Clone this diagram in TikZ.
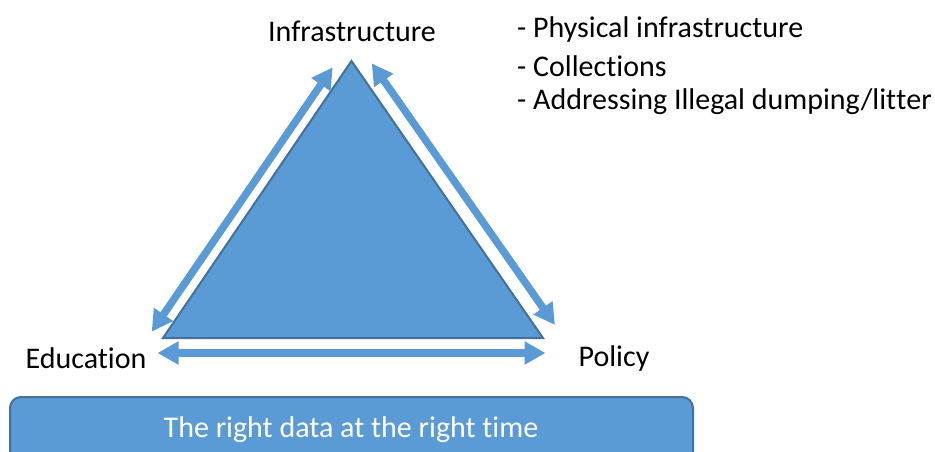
\documentclass[tikz,border=0pt]{standalone}
\usepackage{fontspec}
\setmainfont{Carlito}[Ligatures={NoCommon,NoContextual},RawFeature={-calt;-dlig}]
\usetikzlibrary{arrows.meta}
\definecolor{bfill}{HTML}{5B9BD5}
\definecolor{bline}{HTML}{41719C}
\newcommand{\nlg}{\kern0pt{}}
\tikzset{
  dblarrow/.style={draw=bfill, line width=7.5pt,
    {Triangle[length=21pt,width=22pt]}-{Triangle[length=21pt,width=22pt]}},
  lbl/.style={font=\fontsize{30}{32}\selectfont, inner sep=0pt},
  shape fill/.style={fill=bfill, draw=bline, line width=2pt}
}
\begin{document}
\begin{tikzpicture}[x=1pt,y=-1pt]
\useasboundingbox (0,0) rectangle (935,452);
\clip (0,0) rectangle (935,452);
% triangle
\coordinate (T) at (351.5,61);
\coordinate (BL) at (163,338);
\coordinate (BR) at (543,338);
\draw[shape fill, line join=miter] (T) -- (BL) -- (BR) -- cycle;
% arrows
\coordinate (a1) at (151.7,331.7);
\coordinate (a2) at (332.7,67.3);
\coordinate (b1) at (371.7,63.3);
\coordinate (b2) at (555,325);
\coordinate (c1) at (157.5,353);
\coordinate (c2) at (545.5,353);
\draw[dblarrow] (a1) -- (a2);
\draw[dblarrow] (b1) -- (b2);
\draw[dblarrow] (c1) -- (c2);
% labels
\node[lbl] (infra) at (352,31) {Infrastructure};
\node[lbl] (edu) at (86,358) {Education};
\node[lbl] (pol) at (614,358) {Policy};
\node[lbl, anchor=west, align=left] (l1) at (517,30) {- Physical infrastructure};
\node[lbl, anchor=west, align=left] (l2) at (517,66) {- Collect\nlg ions};
\node[lbl, anchor=west, align=left] (l3) at (517,102) {- Addressing Illegal dumping/lit\nlg t\nlg er};
% bottom box
\draw[shape fill, rounded corners=11pt] (10,397) rectangle (693,470);
\node[lbl, text=white] (data) at (351,430) {The right data at the right t\nlg ime};
\end{tikzpicture}
\end{document}
